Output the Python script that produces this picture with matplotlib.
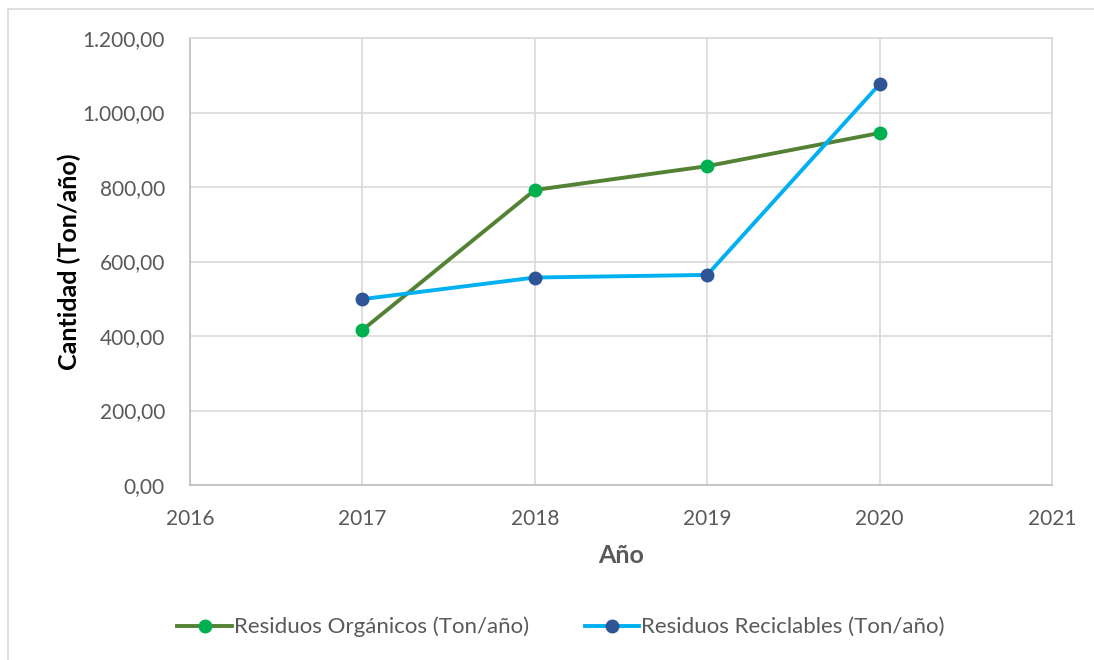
import matplotlib.pyplot as plt
from matplotlib.patches import Rectangle
from matplotlib.lines import Line2D
from matplotlib.ticker import FuncFormatter

# Datos
years = [2017, 2018, 2019, 2020]
organicos = [416, 792, 856, 945]
reciclables = [499, 557, 564, 1076]
series_names = ['Residuos Orgánicos (Ton/año)', 'Residuos Reciclables (Ton/año)']

plt.rcParams['font.family'] = ['Lato', 'DejaVu Sans']
gris = '#595959'

fig = plt.figure(figsize=(10.94, 6.6), dpi=100)
ax = fig.add_axes([190 / 1094, 1 - 485 / 660, (1052 - 190) / 1094, (485 - 38) / 660])

# Marco exterior del gráfico
fig.patches.append(Rectangle((8 / 1094, -0.1), 1.2, 1 - 9 / 660 + 0.1, transform=fig.transFigure,
                             fill=False, edgecolor='#D9D9D9', linewidth=1.2))

ax.plot(years, organicos, color='#548235', linewidth=2.8, marker='o', markersize=9,
        markerfacecolor='#00B050', markeredgecolor='#00B050', zorder=3)
ax.plot(years, reciclables, color='#00B0F0', linewidth=2.8, marker='o', markersize=9,
        markerfacecolor='#2F5597', markeredgecolor='#2F5597', zorder=3)

ax.set_xlim(2016, 2021)
ax.set_ylim(0, 1200)
ax.set_xticks(range(2016, 2022))
ax.set_yticks(range(0, 1201, 200))


def fmt(v, pos):
    s = f'{v:,.2f}'
    return s.replace(',', 'X').replace('.', ',').replace('X', '.')


ax.yaxis.set_major_formatter(FuncFormatter(fmt))
ax.grid(True, color='#D9D9D9', linewidth=1.2)
ax.set_axisbelow(True)
for side in ax.spines:
    ax.spines[side].set_color('#D9D9D9')
    ax.spines[side].set_linewidth(1.2)
ax.spines['left'].set_color('#BFBFBF')
ax.spines['bottom'].set_color('#BFBFBF')
ax.tick_params(length=0, labelsize=15, labelcolor=gris)
ax.tick_params(axis='y', pad=18)
ax.tick_params(axis='x', pad=17)

ax.set_xlabel('Año', fontsize=18, fontweight='bold', color=gris, labelpad=11)
ax.set_ylabel('Cantidad (Ton/año)', fontsize=18, fontweight='bold', color='black', labelpad=1)

handles = [
    Line2D([], [], color='#548235', linewidth=2.8, marker='o', markersize=9,
           markerfacecolor='#00B050', markeredgecolor='#00B050'),
    Line2D([], [], color='#00B0F0', linewidth=2.8, marker='o', markersize=9,
           markerfacecolor='#2F5597', markeredgecolor='#2F5597'),
]
fig.legend(handles, series_names, loc='center', bbox_to_anchor=(0.513, 1 - 627 / 660), ncol=2,
           frameon=False, fontsize=16, labelcolor=gris, handlelength=2.45, handletextpad=0.1,
           columnspacing=2.5)

fig.savefig('out.png', dpi=100)
